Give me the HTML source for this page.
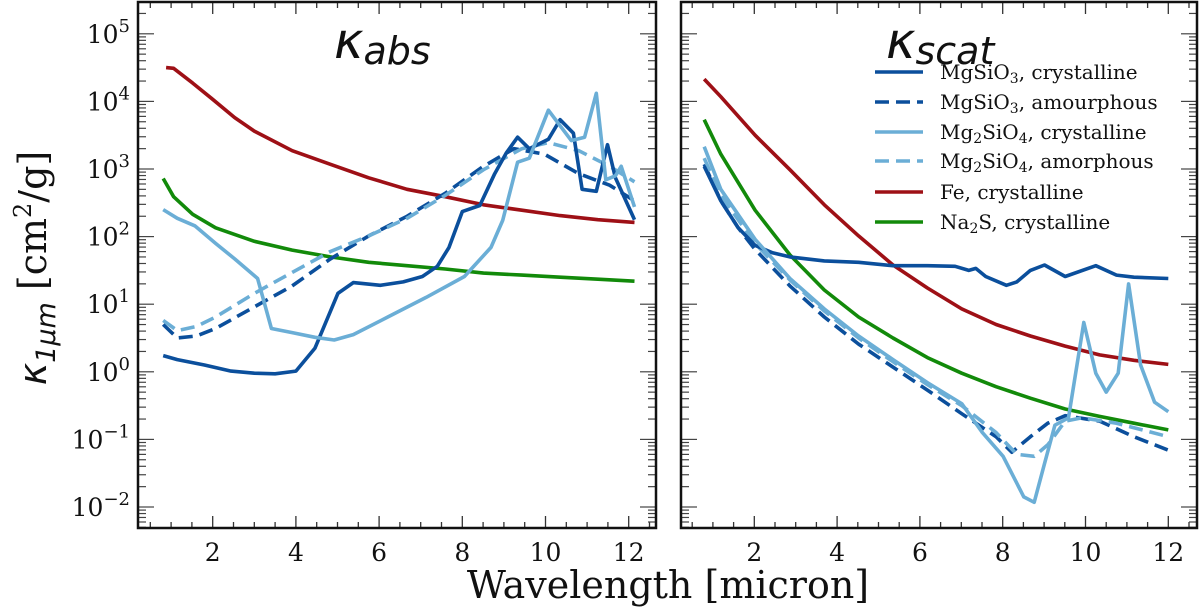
<!DOCTYPE html>
<html><head><meta charset="utf-8"><style>
html,body{margin:0;padding:0;background:#fff;width:1200px;height:613px;overflow:hidden}
svg text{font-family:"DejaVu Serif","Liberation Serif",serif;fill:#111}
</style></head><body>
<svg id="chart" width="1200" height="613" viewBox="0 0 1200 613" xmlns="http://www.w3.org/2000/svg">
<g id="g-left"></g>
<g id="g-right"></g>
<text transform="translate(46,268) rotate(-90)" text-anchor="middle" font-size="38"><tspan style="font-family:'DejaVu Sans',sans-serif" font-style="italic">κ</tspan><tspan style="font-family:'DejaVu Sans',sans-serif" font-style="italic" font-size="27" dy="9">1μm</tspan><tspan dy="-9"> [cm</tspan><tspan font-size="24" dy="-15">2</tspan><tspan dy="15">/g]</tspan></text>
<text x="668" y="598" text-anchor="middle" font-size="38">Wavelength [micron]</text>
<text x="334" y="58" font-size="50" style="font-family:'DejaVu Sans',sans-serif" font-style="italic">κ<tspan font-size="38" dy="6">abs</tspan></text>
<text x="886" y="58" font-size="50" style="font-family:'DejaVu Sans',sans-serif" font-style="italic">κ<tspan font-size="38" dy="6">scat</tspan></text>
<g id="legend"></g>
</svg>
<script>
const absFeX=[0.88,1.06,1.52,1.98,2.53,3.0,3.91,4.83,5.75,6.67,7.59,8.51,9.43,10.35,11.26,12.14];
const absFeY=[4.50,4.49,4.27,4.04,3.76,3.56,3.27,3.07,2.87,2.70,2.59,2.47,2.39,2.31,2.25,2.21];
const absNaX=[0.81,1.06,1.52,2.07,3.0,3.91,4.83,5.75,6.67,7.59,8.51,9.43,10.35,11.26,12.14];
const absNaY=[2.86,2.59,2.33,2.13,1.93,1.80,1.70,1.62,1.57,1.52,1.46,1.43,1.40,1.37,1.34];
const absMgCX=[0.81,1.15,1.8,2.44,3.0,3.5,4.0,4.46,5.01,5.38,6.03,6.58,7.04,7.4,7.68,8.0,8.42,8.78,9.06,9.33,9.61,10.07,10.35,10.67,10.88,11.22,11.49,11.68,12.14];
const absMgCY=[0.24,0.18,0.10,0.01,-0.02,-0.03,0.01,0.35,1.16,1.32,1.28,1.33,1.41,1.56,1.84,2.37,2.46,2.93,3.24,3.47,3.30,3.44,3.73,3.53,2.70,2.67,3.36,2.87,2.25];
const absMgAX=[0.81,1.15,1.61,2.07,3.0,3.91,4.83,5.75,6.67,7.59,8.51,9.24,9.97,10.8,11.54,12.14];
const absMgAY=[0.70,0.50,0.53,0.64,0.96,1.27,1.67,2.01,2.30,2.64,3.04,3.30,3.22,2.93,2.76,2.53];
const absFoCX=[0.81,1.15,1.57,2.07,2.53,3.08,3.41,3.91,4.46,4.92,5.38,6.21,7.13,8.05,8.69,8.97,9.33,9.61,10.07,10.62,10.94,11.22,11.45,11.68,11.82,12.14];
const absFoCY=[2.40,2.27,2.16,1.90,1.67,1.38,0.64,0.58,0.51,0.47,0.55,0.81,1.10,1.41,1.84,2.24,3.10,3.16,3.87,3.42,3.47,4.12,2.84,2.90,3.04,2.44];
const absFoAX=[0.81,1.15,1.61,2.07,3.0,3.91,4.83,5.75,6.67,7.59,8.51,9.43,10.07,10.8,11.54,12.14];
const absFoAY=[0.76,0.61,0.67,0.81,1.16,1.47,1.78,2.01,2.27,2.61,2.99,3.30,3.39,3.27,3.04,2.81];

const scaFeX=[0.79,1.19,2.02,2.86,3.69,4.52,5.35,6.18,7.01,7.84,8.67,9.51,10.34,11.17,12.0];
const scaFeY=[4.33,4.07,3.50,2.99,2.47,2.01,1.58,1.24,0.93,0.70,0.53,0.38,0.25,0.17,0.11];
const scaNaX=[0.79,1.19,2.02,2.86,3.69,4.52,5.35,6.18,7.01,7.84,8.67,9.51,10.34,11.17,12.0];
const scaNaY=[3.73,3.22,2.39,1.73,1.21,0.81,0.50,0.21,-0.02,-0.22,-0.39,-0.55,-0.66,-0.76,-0.86];
const scaMgCX=[0.79,1.19,1.61,2.02,2.44,2.86,3.69,4.52,5.35,6.18,6.85,7.18,7.35,7.59,8.09,8.34,8.67,9.01,9.51,10.25,10.75,11.17,12.0];
const scaMgCY=[3.04,2.53,2.13,1.87,1.76,1.70,1.64,1.62,1.57,1.57,1.56,1.50,1.53,1.41,1.28,1.33,1.50,1.58,1.41,1.57,1.43,1.40,1.38];
const scaMgAX=[0.79,1.19,1.61,2.02,2.86,3.69,4.52,5.35,6.18,7.01,7.84,8.22,8.67,9.09,9.51,10.34,11.17,12.0];
const scaMgAY=[3.07,2.53,2.13,1.81,1.27,0.81,0.41,0.07,-0.27,-0.62,-0.96,-1.19,-0.96,-0.76,-0.65,-0.73,-0.96,-1.16];
const scaFoAX=[0.79,1.19,2.02,2.86,3.69,4.52,5.35,6.18,7.01,7.84,8.34,8.76,9.09,9.51,9.92,10.75,12.0];
const scaFoAY=[3.16,2.61,1.90,1.36,0.90,0.50,0.15,-0.19,-0.50,-0.90,-1.22,-1.25,-1.08,-0.73,-0.68,-0.76,-0.96];
const scaFoCX=[0.79,1.19,2.02,2.86,3.69,4.52,5.35,6.18,7.01,7.51,8.01,8.51,8.76,9.01,9.26,9.59,9.96,10.25,10.50,10.79,11.04,11.33,11.67,12.0];
const scaFoCY=[3.33,2.70,1.96,1.38,0.93,0.53,0.18,-0.16,-0.47,-0.90,-1.25,-1.85,-1.93,-1.36,-0.79,-0.68,0.73,-0.02,-0.30,-0.02,1.30,0.10,-0.45,-0.59];

const yTickExps=[-2,-1,0,1,2,3,4,5];
const xTickLabels=[2,4,6,8,10,12];
const legendLabels=[["MgSiO","3",", crystalline"],["MgSiO","3",", amourphous"],["Mg","2","SiO","4",", crystalline"],["Mg","2","SiO","4",", amorphous"],["Fe, crystalline"],["Na","2","S, crystalline"]];

const C={dark:"#0b4f9c",light:"#6baed6",red:"#9e1016",green:"#128a0a"};
const NS="http://www.w3.org/2000/svg";
const yTop=2,yBot=528;
const yOf=v=>507-(v+2)*67.6;
function mk(tag,at,par){const e=document.createElementNS(NS,tag);for(const k in at)e.setAttribute(k,at[k]);par.appendChild(e);return e;}

function panel(g,x0,x1,org,sc,series,showY){
  const xOf=v=>org+v*sc;
  for(let m=0.5;m<=12.5;m+=0.5){
    const px=xOf(m); if(px<=x0||px>=x1)continue;
    const L=(m%2===0)?12:6;
    const t1=mk('line',{x1:px,x2:px,y1:yBot,y2:yBot-L,stroke:'#333','stroke-width':1.3},g);
    
    
    const t2=mk('line',{x1:px,x2:px,y1:yTop,y2:yTop+L,stroke:'#333','stroke-width':1.3},g);
    
    
  }
  for(let e=-3;e<=5;e++){
    for(let k=1;k<10;k++){
      const v=e+Math.log10(k); const py=yOf(v);
      if(py<=yTop||py>=yBot)continue;
      const L=k===1?16:8;
      const a=mk('line',{x1:x0,x2:x0+L,y1:py,y2:py,stroke:'#444','stroke-width':1.2},g);
      
      
      const b=mk('line',{x1:x1,x2:x1-L,y1:py,y2:py,stroke:'#444','stroke-width':1.2},g);
      
      
    }
  }
  xTickLabels.forEach(v=>{
    const t=mk('text',{x:xOf(v),y:561,'text-anchor':'middle','font-size':25},g);
    
    
    t.textContent=v;
  });
  if(showY){
    yTickExps.forEach(e=>{
      const t=mk('text',{x:130,y:yOf(e)+9,'text-anchor':'end','font-size':25},g);
      
      
      t.appendChild(document.createTextNode('10'));
      const s=mk('tspan',{'font-size':18,dy:-11},t);
      s.textContent=e<0?'−'+(-e):String(e);
    });
  }
  series.forEach(s=>{
    const d=s.x.map((v,i)=>(i?'L':'M')+xOf(v).toFixed(1)+','+yOf(s.y[i]).toFixed(1)).join('');
    const p=mk('path',{d:d,fill:'none',stroke:s.c,'stroke-width':3.6,'stroke-linejoin':'round'},g);
    if(s.dash)p.setAttribute('stroke-dasharray','14,7');
    
    
  });
  const f=mk('rect',{x:x0,y:yTop,width:x1-x0,height:yBot-yTop,fill:'none',stroke:'#111','stroke-width':2.5},g);
  
  
}

panel(document.getElementById('g-left'),138,656,129.5,41.6,[
 {x:absFeX,y:absFeY,c:C.red,n:'line-fe-abs'},
 {x:absNaX,y:absNaY,c:C.green,n:'line-na2s-abs'},
 {x:absMgAX,y:absMgAY,c:C.dark,dash:1,n:'line-mgsio3-amorph-abs'},
 {x:absFoAX,y:absFoAY,c:C.light,dash:1,n:'line-mg2sio4-amorph-abs'},
 {x:absMgCX,y:absMgCY,c:C.dark,n:'line-mgsio3-cryst-abs'},
 {x:absFoCX,y:absFoCY,c:C.light,n:'line-mg2sio4-cryst-abs'}],true);
panel(document.getElementById('g-right'),681,1197,671.5,41.4,[
 {x:scaFeX,y:scaFeY,c:C.red,n:'line-fe-scat'},
 {x:scaNaX,y:scaNaY,c:C.green,n:'line-na2s-scat'},
 {x:scaMgAX,y:scaMgAY,c:C.dark,dash:1,n:'line-mgsio3-amorph-scat'},
 {x:scaFoAX,y:scaFoAY,c:C.light,dash:1,n:'line-mg2sio4-amorph-scat'},
 {x:scaMgCX,y:scaMgCY,c:C.dark,n:'line-mgsio3-cryst-scat'},
 {x:scaFoCX,y:scaFoCY,c:C.light,n:'line-mg2sio4-cryst-scat'}],false);

const lg=document.getElementById('legend');
const lc=[[C.dark,0],[C.dark,1],[C.light,0],[C.light,1],[C.red,0],[C.green,0]];
const ly=[72,102,132,161,192,222];
legendLabels.forEach((parts,i)=>{
  const l=mk('line',{x1:875,x2:923,y1:ly[i],y2:ly[i],stroke:lc[i][0],'stroke-width':3.6},lg);
  if(lc[i][1])l.setAttribute('stroke-dasharray','14,7');
  
  
  const t=mk('text',{x:940,y:ly[i]+7,'font-size':20},lg);
  
  
  let sub=false;
  parts.forEach(p=>{
    if(/^\d$/.test(p)){const s=mk('tspan',{'font-size':14,dy:4},t);s.textContent=p;sub=true;}
    else{const s=mk('tspan',sub?{dy:-4}:{},t);s.textContent=p;sub=false;}
  });
});
</script>
</body></html>
